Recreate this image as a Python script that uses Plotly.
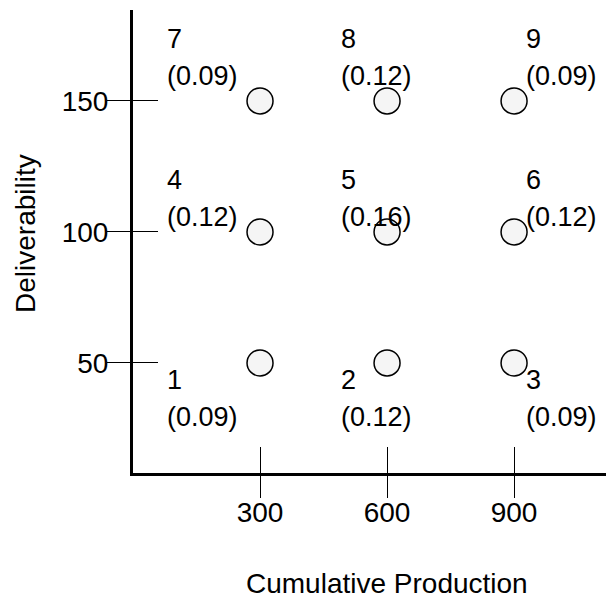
import plotly.graph_objects as go

# ---- data ----
cum_production = [300, 600, 900, 300, 600, 900, 300, 600, 900]
deliverability = [50, 50, 50, 100, 100, 100, 150, 150, 150]
point_ids = ["1", "2", "3", "4", "5", "6", "7", "8", "9"]
probabilities = [0.09, 0.12, 0.09, 0.12, 0.16, 0.12, 0.09, 0.12, 0.09]
x_ticks = [300, 600, 900]
y_ticks = [50, 100, 150]

FONT = "Liberation Sans, Arial, Helvetica, sans-serif"

# label placement (pixel offsets relative to each point)
col_xshift = {300: -95, 600: -48, 900: 10}
row_yshift = {150: (62, 25), 100: (52, 15), 50: (-17, -54)}

fig = go.Figure()
fig.add_trace(go.Scatter(
    x=cum_production, y=deliverability, mode="markers",
    marker=dict(size=26, color="#f5f5f5", line=dict(color="black", width=1.5)),
    showlegend=False, hoverinfo="skip",
))
# invisible trace to carry the overlay axes (inner halves of the ticks)
fig.add_trace(go.Scatter(x=[None], y=[None], xaxis="x2", yaxis="y2",
                         showlegend=False, hoverinfo="skip"))

annotations = []
for x, y, pid, p in zip(cum_production, deliverability, point_ids, probabilities):
    ny, py = row_yshift[y]
    annotations.append(dict(x=x, y=y, xref="x", yref="y", text=pid, showarrow=False,
                            xanchor="left", yanchor="middle",
                            xshift=col_xshift[x], yshift=ny,
                            font=dict(family=FONT, size=27, color="black")))
    annotations.append(dict(x=x, y=y, xref="x", yref="y", text=f"({p:.2f})", showarrow=False,
                            xanchor="left", yanchor="middle",
                            xshift=col_xshift[x], yshift=py,
                            font=dict(family=FONT, size=27, color="black")))

annotations.append(dict(text="Cumulative Production", x=0.528, y=-0.238, xref="paper", yref="paper",
                        showarrow=False, xanchor="center", yanchor="middle",
                        font=dict(family=FONT, size=28, color="black")))
annotations.append(dict(text="Deliverability", x=-0.225, y=0.518, xref="paper", yref="paper",
                        showarrow=False, xanchor="center", yanchor="middle", textangle=-90,
                        font=dict(family=FONT, size=28, color="black")))

XR = [0, 1136]
YR = [8, 184.7]

fig.update_layout(
    width=614, height=600,
    margin=dict(l=125, r=8, t=2, b=135),
    paper_bgcolor="white", plot_bgcolor="white",
    font=dict(family=FONT, size=28, color="black"),
    annotations=annotations,
    xaxis=dict(range=XR, tickvals=x_ticks, ticks="outside", ticklen=22, tickwidth=1,
               tickcolor="black", showline=True, linecolor="black", linewidth=3,
               showgrid=False, zeroline=False, tickfont=dict(size=28),
               ticklabelstandoff=-10),
    yaxis=dict(range=YR, tickvals=y_ticks, ticks="outside", ticklen=23, tickwidth=1,
               tickcolor="black", showline=True, linecolor="black", linewidth=3,
               showgrid=False, zeroline=False, tickfont=dict(size=28),
               ticklabelstandoff=-7),
    xaxis2=dict(range=XR, overlaying="x", anchor="y", side="bottom", tickvals=x_ticks,
                ticks="inside", ticklen=26, tickwidth=1, tickcolor="black",
                showticklabels=False, showline=False, showgrid=False, zeroline=False),
    yaxis2=dict(range=YR, overlaying="y", anchor="x", side="left", tickvals=y_ticks,
                ticks="inside", ticklen=25, tickwidth=1, tickcolor="black",
                showticklabels=False, showline=False, showgrid=False, zeroline=False),
)

fig.write_html("out.html")
